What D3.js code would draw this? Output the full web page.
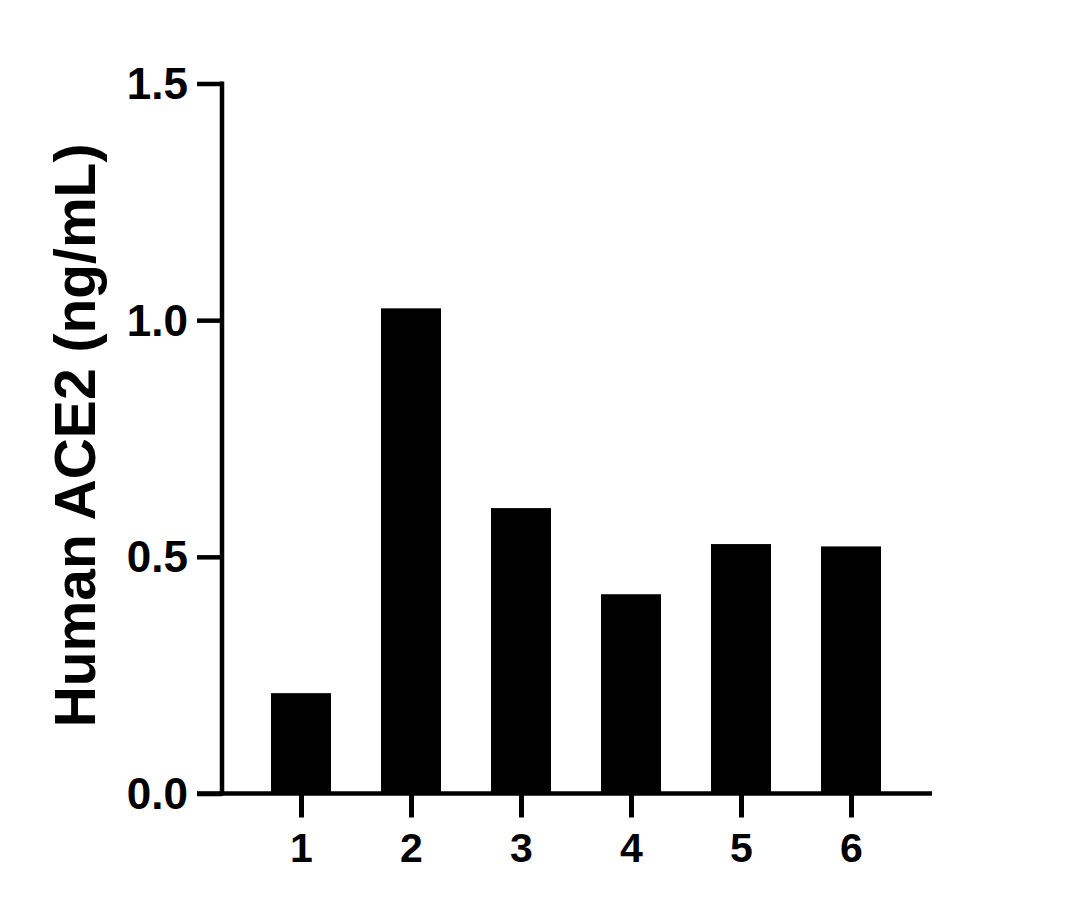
<!DOCTYPE html>
<html>
<head>
<meta charset="utf-8">
<script src="https://cdn.jsdelivr.net/npm/d3@7"></script>
<style>
  html, body { margin: 0; padding: 0; background: #fff; }
  svg { display: block; }
  text { font-family: "Liberation Sans", Arial, sans-serif; font-weight: bold; fill: #000; }
</style>
</head>
<body>
<script>
const categories = ["1", "2", "3", "4", "5", "6"];
const values = [0.212, 1.025, 0.603, 0.421, 0.527, 0.522];
const yTicks = [0.0, 0.5, 1.0, 1.5];
const yTitle = "Human ACE2 (ng/mL)";

const W = 1069, H = 909;
const svg = d3.select("body").append("svg").attr("width", W).attr("height", H);

const y = d3.scaleLinear().domain([0, 1.5]).range([793.5, 83.5]);
const x = d3.scalePoint().domain(categories).range([301, 851]);
const barW = 60;
const axisX = 222;

// bars
svg.selectAll("rect.bar").data(values).enter().append("rect")
  .attr("class", "bar")
  .attr("x", (d, i) => x(categories[i]) - barW / 2)
  .attr("width", barW)
  .attr("y", d => y(d))
  .attr("height", d => y(0) - y(d))
  .attr("fill", "#000");

// y axis
const yAxis = d3.axisLeft(y).tickValues(yTicks).tickFormat(d3.format(".1f")).tickSize(25).tickPadding(9);
const gy = svg.append("g").attr("transform", `translate(${axisX},0)`).call(yAxis);
gy.select(".domain").attr("stroke", "#000").attr("stroke-width", 4.5)
  .attr("d", `M0,${y(1.5) - 2}V${y(0) + 2}`);
gy.selectAll(".tick line").attr("stroke", "#000").attr("stroke-width", 4.5);
gy.selectAll(".tick text").attr("font-size", 44).attr("font-family", "Liberation Sans, Arial, sans-serif")
  .attr("font-weight", "bold").attr("fill", "#000").attr("dy", "0.34em");

// x axis
const xAxis = d3.axisBottom(x).tickSize(24).tickPadding(15);
const gx = svg.append("g").attr("transform", `translate(0,${y(0)})`).call(xAxis);
gx.select(".domain").attr("stroke", "#000").attr("stroke-width", 4.5)
  .attr("d", `M${axisX - 25},0H932`);
gx.selectAll(".tick line").attr("stroke", "#000").attr("stroke-width", 5);
gx.selectAll(".tick text").attr("font-size", 41).attr("font-family", "Liberation Sans, Arial, sans-serif")
  .attr("font-weight", "bold").attr("fill", "#000");

// y title
svg.append("text")
  .attr("transform", `translate(95,435.5) rotate(-90)`)
  .attr("text-anchor", "middle")
  .attr("font-size", 57)
  .text(yTitle);
</script>
</body>
</html>
